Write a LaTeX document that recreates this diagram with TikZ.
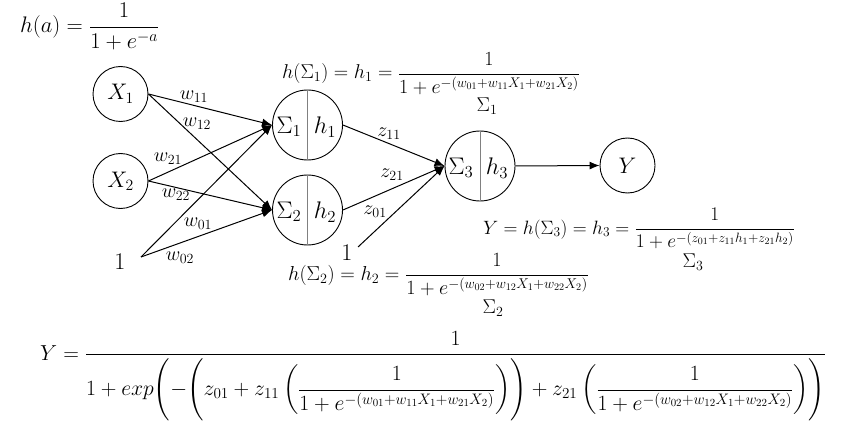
\RequirePackage{fix-cm}
\documentclass[tikz,border=0pt]{standalone}
\usepackage{amsmath}
\usetikzlibrary{arrows.meta}
\begin{document}
\begin{tikzpicture}[x=1pt,y=-1pt,
  neuron/.style={circle,draw,line width=0.9pt,minimum size=70pt,inner sep=0pt},
  inp/.style={circle,draw,line width=0.9pt,minimum size=55pt,inner sep=0pt,font=\fontsize{22.5}{27}\selectfont},
  conn/.style={line width=1pt,-{Latex[length=10pt,width=8pt]}},
  divider/.style={draw=gray,line width=1pt},
  wlab/.style={font=\fontsize{20}{24}\selectfont,inner sep=0pt},
  big/.style={font=\fontsize{24}{28}\selectfont,inner sep=0pt},
  eq/.style={font=\fontsize{20}{24}\selectfont,inner sep=0pt,anchor=base west},
  sublab/.style={font=\fontsize{20}{24}\selectfont,inner sep=0pt},
]
\useasboundingbox (0,0) rectangle (841,425);

% input nodes
\node[inp] (X1) at (120.5,94) {$X_1$};
\node[inp] (X2) at (120.5,181) {$X_2$};
\node[big] (one) at (120,262) {1};
\coordinate (oneout) at (141,257);

% hidden neurons
\node[neuron] (S1) at (307.5,125) {};
\draw[divider] (S1.north) -- (S1.south);
\node[big] (S1a) at (289,127) {$\Sigma_1$};
\node[big] (S1b) at (325,127) {$h_1$};

\node[neuron] (S2) at (307.5,210) {};
\draw[divider] (S2.north) -- (S2.south);
\node[big] (S2a) at (289,212) {$\Sigma_2$};
\node[big] (S2b) at (325,212) {$h_2$};

% output neuron
\node[neuron] (S3) at (480,166) {};
\draw[divider] (S3.north) -- (S3.south);
\node[big] (S3a) at (461,168) {$\Sigma_3$};
\node[big] (S3b) at (497,168) {$h_3$};

\node[inp] (Y) at (627.5,165.5) {$Y$};

\node[big] (one2) at (347,253) {1};
\coordinate (one2out) at (358,247);

% connections into hidden layer
\draw[conn] (X1.east) -- (S1.west);
\draw[conn] (X1.east) -- (S2.west);
\draw[conn] (X2.east) -- (S1.west);
\draw[conn] (X2.east) -- (S2.west);
\draw[conn] (oneout) -- (S1.west);
\draw[conn] (oneout) -- (S2.west);

% connections into output
\draw[conn] (S1.east) -- (S3.west);
\draw[conn] (S2.east) -- (S3.west);
\draw[conn] (one2out) -- (S3.west);
\draw[conn] (S3.east) -- (Y.west);

% weight labels
\node[wlab] (w11) at (194,97) {$w_{11}$};
\node[wlab] (w12) at (197,124) {$w_{12}$};
\node[wlab] (w21) at (168,159) {$w_{21}$};
\node[wlab] (w22) at (176,195) {$w_{22}$};
\node[wlab] (w01) at (198,224) {$w_{01}$};
\node[wlab] (w02) at (180,258) {$w_{02}$};
\node[wlab] (z11) at (389,134) {$z_{11}$};
\node[wlab] (z21) at (392,175) {$z_{21}$};
\node[wlab] (z01) at (375,212) {$z_{01}$};

% formulas
\node[eq,font=\fontsize{22.5}{26}\selectfont] (ha) at (20,33) {$h(a) = \dfrac{1}{1+e^{-a}}$};
\node[eq] (h1eq) at (282,79) {$h(\Sigma_1) = h_1 = \dfrac{1}{1+e^{-(w_{01}+w_{11}X_1+w_{21}X_2)}}$};
\node[sublab] (sig1) at (487,106) {$\Sigma_1$};
\node[eq,font=\fontsize{20.2}{24}\selectfont] (h2eq) at (288,280) {$h(\Sigma_2) = h_2 = \dfrac{1}{1+e^{-(w_{02}+w_{12}X_1+w_{22}X_2)}}$};
\node[sublab] (sig2) at (493,308) {$\Sigma_2$};
\node[eq,font=\fontsize{19.3}{23}\selectfont] (h3eq) at (483,234) {$Y = h(\Sigma_3) = h_3 = \dfrac{1}{1+e^{-(z_{01}+z_{11}h_1+z_{21}h_2)}}$};
\node[sublab] (sig3) at (693,262) {$\Sigma_3$};

\node[eq,font=\fontsize{21.7}{26}\selectfont] (Yfull) at (40,360) {$Y = \dfrac{1}{1+exp\Biggl(-\Biggl(z_{01}+z_{11}\left(\dfrac{1}{1+e^{-(w_{01}+w_{11}X_1+w_{21}X_2)}}\right)\Biggr)+z_{21}\left(\dfrac{1}{1+e^{-(w_{02}+w_{12}X_1+w_{22}X_2)}}\right)\Biggr)}$};
\end{tikzpicture}
\end{document}
